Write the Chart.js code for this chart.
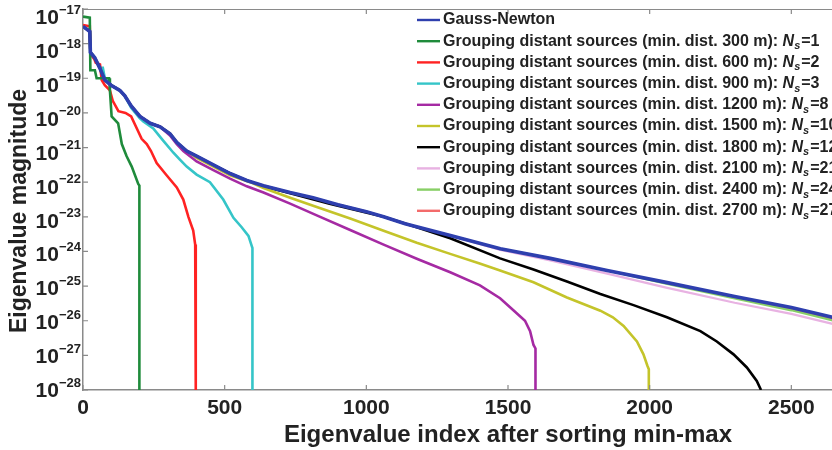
<!DOCTYPE html>
<html>
<head>
<meta charset="utf-8">
<script src="https://cdn.jsdelivr.net/npm/chart.js@4/dist/chart.umd.min.js"></script>
<style>
  html, body { margin: 0; padding: 0; background: #fff; overflow: hidden; width: 832px; height: 450px; }
  #wrap { position: relative; width: 963px; height: 450px; }
</style>
</head>
<body>
<div id="wrap"><canvas id="c" width="963" height="450"></canvas></div>
<script>
// ---------------- DATA ----------------
const xTickValues = [0, 500, 1000, 1500, 2000, 2500, 3000];
const xTickLabels = ['0', '500', '1000', '1500', '2000', '2500', '3000'];
const yTickValues = [1e-28, 1e-27, 1e-26, 1e-25, 1e-24, 1e-23, 1e-22, 1e-21, 1e-20, 1e-19, 1e-18, 1e-17];
const yTickBase = '10';
const yTickExponents = ['−28', '−27', '−26', '−25', '−24', '−23', '−22', '−21', '−20', '−19', '−18', '−17'];

const xTitle = 'Eigenvalue index after sorting min-max';
const yTitle = 'Eigenvalue magnitude';

const seriesNames = [
  'Gauss-Newton',
  'Grouping distant sources (min. dist. 300 m): ',
  'Grouping distant sources (min. dist. 600 m): ',
  'Grouping distant sources (min. dist. 900 m): ',
  'Grouping distant sources (min. dist. 1200 m): ',
  'Grouping distant sources (min. dist. 1500 m): ',
  'Grouping distant sources (min. dist. 1800 m): ',
  'Grouping distant sources (min. dist. 2100 m): ',
  'Grouping distant sources (min. dist. 2400 m): ',
  'Grouping distant sources (min. dist. 2700 m): '
];
const seriesNs = [null, 1, 2, 3, 8, 10, 12, 21, 24, 27];

// Gauss-Newton
const gnIdx = [0, 24, 26, 41, 59, 77, 99, 130, 147, 170, 201, 237, 272, 307, 331, 366, 401, 460, 519, 578, 637, 731, 812, 900, 1000, 1061, 1137, 1300, 1473, 1649, 1850, 2062, 2300, 2500, 2660];
const gnVal = [3.16e-18, 2.24e-18, 5.62e-19, 3.98e-19, 2.0e-19, 8.91e-20, 6.31e-20, 4.47e-20, 3.16e-20, 1.58e-20, 7.94e-21, 5.01e-21, 3.98e-21, 2.51e-21, 1.41e-21, 7.94e-22, 5.62e-22, 3.16e-22, 1.78e-22, 1.12e-22, 7.94e-23, 5.01e-23, 3.55e-23, 2.24e-23, 1.41e-23, 1.0e-23, 6.31e-24, 2.82e-24, 1.20e-24, 6.31e-25, 2.82e-25, 1.26e-25, 5.01e-26, 2.40e-26, 1.17e-26];

// 300 m
const g300Idx = [0, 24, 26, 42, 48, 92, 95, 101, 124, 137, 154, 172, 195, 199, 199];
const g300Val = [6.03e-18, 5.62e-18, 1.70e-19, 1.70e-19, 1.0e-19, 1.0e-19, 4.47e-20, 7.94e-21, 5.01e-21, 1.26e-21, 5.62e-22, 2.82e-22, 8.91e-23, 7.94e-23, 1e-28];

// 600 m
const g600Idx = [0, 24, 26, 40, 45, 60, 66, 77, 95, 105, 125, 150, 170, 190, 207, 225, 240, 260, 295, 331, 354, 372, 389, 396, 398, 398];
const g600Val = [3.47e-18, 3.16e-18, 5.01e-19, 3.55e-19, 2.82e-19, 2.51e-19, 8.91e-20, 6.31e-20, 4.47e-20, 2.24e-20, 1.12e-20, 1.0e-20, 7.94e-21, 3.55e-21, 1.78e-21, 1.26e-21, 7.94e-22, 3.55e-22, 1.58e-22, 7.08e-23, 3.16e-23, 1.0e-23, 3.98e-24, 1.58e-24, 1.41e-24, 1e-28];

// 900 m
const g900Idx = [0, 24, 26, 41, 59, 70, 77, 99, 130, 147, 170, 200, 213, 248, 283, 319, 342, 366, 401, 448, 495, 531, 560, 584, 596, 598, 598];
const g900Val = [3.16e-18, 2.24e-18, 5.62e-19, 3.98e-19, 2.0e-19, 2.0e-19, 1.0e-19, 6.31e-20, 4.47e-20, 3.16e-20, 1.41e-20, 7.08e-21, 5.62e-21, 3.55e-21, 1.58e-21, 7.08e-22, 4.47e-22, 2.82e-22, 1.66e-22, 1.0e-22, 3.16e-23, 9.33e-24, 5.01e-24, 2.82e-24, 1.41e-24, 1.26e-24, 1e-28];

// 1200 m (branches off Gauss-Newton after index 272)
const g1200Idx = [307, 331, 354, 401, 460, 519, 578, 637, 731, 825, 943, 1061, 1178, 1296, 1401, 1472, 1519, 1560, 1578, 1590, 1597, 1597];
const g1200Val = [2.24e-21, 1.26e-21, 7.94e-22, 3.98e-22, 2.24e-22, 1.26e-22, 7.59e-23, 5.01e-23, 2.40e-23, 1.10e-23, 4.17e-24, 1.58e-24, 6.17e-25, 2.51e-25, 1.05e-25, 4.47e-26, 2.0e-26, 1.0e-26, 5.01e-27, 2.0e-27, 1.58e-27, 1e-28];

// 1500 m (branches after index 366)
const g1500Idx = [401, 460, 519, 590, 637, 731, 825, 943, 1061, 1178, 1296, 1400, 1472, 1590, 1708, 1826, 1870, 1908, 1955, 1978, 1992, 1997, 1997];
const g1500Val = [5.01e-22, 2.82e-22, 1.58e-22, 1.0e-22, 6.76e-23, 3.55e-23, 1.91e-23, 8.91e-24, 3.98e-24, 1.78e-24, 8.51e-25, 4.47e-25, 2.82e-25, 1.29e-25, 4.68e-26, 1.95e-26, 1.26e-26, 7.08e-27, 2.51e-27, 1.07e-27, 5.01e-28, 3.98e-28, 1e-28];

// 1800 m (branches after index 578)
const g1800Idx = [637, 731, 870, 1061, 1178, 1296, 1472, 1590, 1708, 1826, 1943, 2061, 2179, 2237, 2296, 2343, 2378, 2393];
const g1800Val = [7.59e-23, 4.79e-23, 2.40e-23, 1.0e-23, 5.01e-24, 2.40e-24, 6.31e-25, 3.02e-25, 1.35e-25, 5.89e-26, 2.82e-26, 1.26e-26, 5.01e-27, 2.51e-27, 1.07e-27, 4.47e-28, 1.82e-28, 1e-28];

// 2100 m (branches after index 1300)
const g2100Idx = [1473, 1649, 1850, 2062, 2300, 2500, 2660];
const g2100Val = [1.10e-24, 5.50e-25, 2.29e-25, 8.91e-26, 3.31e-26, 1.58e-26, 7.59e-27];

// 2400 m (branches after index 1850)
const g2400Idx = [2062, 2300, 2500, 2660];
const g2400Val = [1.15e-25, 4.37e-26, 2.0e-26, 9.55e-27];

// 2700 m (branches after index 2062)
const g2700Idx = [2300, 2500, 2660];
const g2700Val = [4.68e-26, 2.19e-26, 1.07e-26];

const branchAt = [null, null, null, null, 272, 366, 578, 1300, 1850, 2062];
const colors = ['#2e3fae', '#1f8b3b', '#ff2222', '#35c5c8', '#a52aa3', '#c4c42a', '#000000', '#e8b2e2', '#88cf66', '#f36b6b'];
const widths = [3.6, 2.6, 2.6, 2.6, 2.6, 2.6, 2.6, 2.2, 2.2, 2.2];

// ------------- BUILD -------------
function pts(ix, vals) { return ix.map((x, i) => ({ x: x, y: vals[i] })); }
function branch(cut, ix, vals) {
  const head = [];
  gnIdx.forEach((x, i) => { if (x <= cut) head.push({ x: x, y: gnVal[i] }); });
  return head.concat(pts(ix, vals));
}
const seriesData = [
  pts(gnIdx, gnVal),
  pts(g300Idx, g300Val),
  pts(g600Idx, g600Val),
  pts(g900Idx, g900Val),
  branch(branchAt[4], g1200Idx, g1200Val),
  branch(branchAt[5], g1500Idx, g1500Val),
  branch(branchAt[6], g1800Idx, g1800Val),
  branch(branchAt[7], g2100Idx, g2100Val),
  branch(branchAt[8], g2400Idx, g2400Val),
  branch(branchAt[9], g2700Idx, g2700Val)
];

const FONT = '"Liberation Sans", Arial, sans-serif';
const TXT = '#222222';
const AXIS = '#8a8a8a';

const datasets = seriesData.map((d, i) => ({
  label: seriesNames[i] + (seriesNs[i] !== null ? 'Nₛ=' + seriesNs[i] : ''),
  data: d,
  borderColor: colors[i],
  backgroundColor: colors[i],
  borderWidth: widths[i],
  pointRadius: 0,
  tension: 0,
  fill: false
}));

const frameTicks = {
  id: 'frameTicks',
  afterDraw(chart) {
    const { ctx, chartArea: a, scales } = chart;
    ctx.save();
    ctx.strokeStyle = AXIS;
    ctx.lineWidth = 1.2;
    ctx.beginPath();
    ctx.moveTo(a.left, a.top + 0.5); ctx.lineTo(a.right, a.top + 0.5);
    ctx.moveTo(a.right - 0.5, a.top); ctx.lineTo(a.right - 0.5, a.bottom);
    xTickValues.forEach(v => {
      const px = scales.x.getPixelForValue(v);
      ctx.moveTo(px, a.bottom); ctx.lineTo(px, a.bottom - 5);
      ctx.moveTo(px, a.top); ctx.lineTo(px, a.top + 5);
    });
    yTickValues.forEach(v => {
      const py = scales.y.getPixelForValue(v);
      ctx.moveTo(a.left, py); ctx.lineTo(a.left + 5, py);
    });
    ctx.stroke();
    ctx.restore();
  }
};

// y tick labels as "10" with a raised exponent, and the rotated y title
const yAxisText = {
  id: 'yAxisText',
  afterDraw(chart) {
    const { ctx, chartArea: a, scales } = chart;
    const n = yTickValues.length;
    ctx.save();
    ctx.fillStyle = TXT;
    ctx.textAlign = 'right';
    ctx.textBaseline = 'middle';
    yTickValues.forEach((v, i) => {
      const py = scales.y.getPixelForValue(v);
      const k = n - 1 - i;
      const yc = py + 8.5 - 7.5 * k / (n - 1);
      ctx.font = 'bold 13px ' + FONT;
      const ew = ctx.measureText(yTickExponents[i]).width;
      ctx.fillText(yTickExponents[i], a.left - 2, yc - 7.5);
      ctx.font = 'bold 21px ' + FONT;
      ctx.fillText(yTickBase, a.left - 2 - ew, yc + 0.5);
    });
    ctx.translate(20, 211);
    ctx.rotate(-Math.PI / 2);
    ctx.textAlign = 'center';
    ctx.font = 'bold 23px ' + FONT;
    ctx.fillText(yTitle, 0, 0);
    ctx.restore();
  }
};

const customLegend = {
  id: 'customLegend',
  afterDraw(chart) {
    const ctx = chart.ctx;
    const LX1 = 417, LX2 = 440, TX = 443, TOP = 20, STEP = 21.2;
    ctx.save();
    ctx.textBaseline = 'middle';
    ctx.fillStyle = TXT;
    chart.data.datasets.forEach((ds, i) => {
      const y = TOP + i * STEP;
      ctx.strokeStyle = ds.borderColor;
      ctx.lineWidth = 2.4;
      ctx.beginPath(); ctx.moveTo(LX1, y); ctx.lineTo(LX2, y); ctx.stroke();
      let x = TX;
      ctx.font = 'bold 16px ' + FONT;
      ctx.fillText(seriesNames[i], x, y);
      x += ctx.measureText(seriesNames[i]).width;
      if (seriesNs[i] !== null) {
        ctx.font = 'italic bold 16px ' + FONT;
        ctx.fillText('N', x, y);
        x += ctx.measureText('N').width;
        ctx.font = 'italic bold 11px ' + FONT;
        ctx.fillText('s', x, y + 5);
        x += ctx.measureText('s').width + 1;
        ctx.font = 'bold 16px ' + FONT;
        ctx.fillText('=' + seriesNs[i], x, y);
      }
    });
    ctx.restore();
  }
};

new Chart(document.getElementById('c'), {
  type: 'line',
  data: { datasets: datasets },
  options: {
    responsive: false,
    animation: false,
    layout: { padding: { top: 9, right: 30, left: 0, bottom: 0 } },
    plugins: { legend: { display: false }, tooltip: { enabled: false } },
    scales: {
      x: {
        type: 'linear', min: 0, max: 3000,
        afterBuildTicks(s) { s.ticks = xTickValues.map(v => ({ value: v })); },
        afterFit(s) { s.height = 60; },
        grid: { display: false, drawTicks: false },
        border: { display: true, color: AXIS, width: 1.5 },
        ticks: {
          color: TXT, padding: 6, maxRotation: 0, autoSkip: false,
          font: { family: FONT, size: 21, weight: 'bold' },
          callback: function (v) { const i = xTickValues.indexOf(v); return i >= 0 ? xTickLabels[i] : ''; }
        },
        title: { display: true, text: xTitle, color: TXT, padding: { top: 0, bottom: 0 }, font: { family: FONT, size: 24, weight: 'bold' } }
      },
      y: {
        type: 'logarithmic', min: 1e-28, max: 1e-17,
        afterBuildTicks(s) { s.ticks = yTickValues.map(v => ({ value: v })); },
        afterFit(s) { s.width = 83; },
        grid: { display: false, drawTicks: false },
        border: { display: true, color: AXIS, width: 1.5 },
        ticks: { display: false },
        title: { display: false, text: yTitle }
      }
    }
  },
  plugins: [frameTicks, yAxisText, customLegend]
});
</script>
</body>
</html>
